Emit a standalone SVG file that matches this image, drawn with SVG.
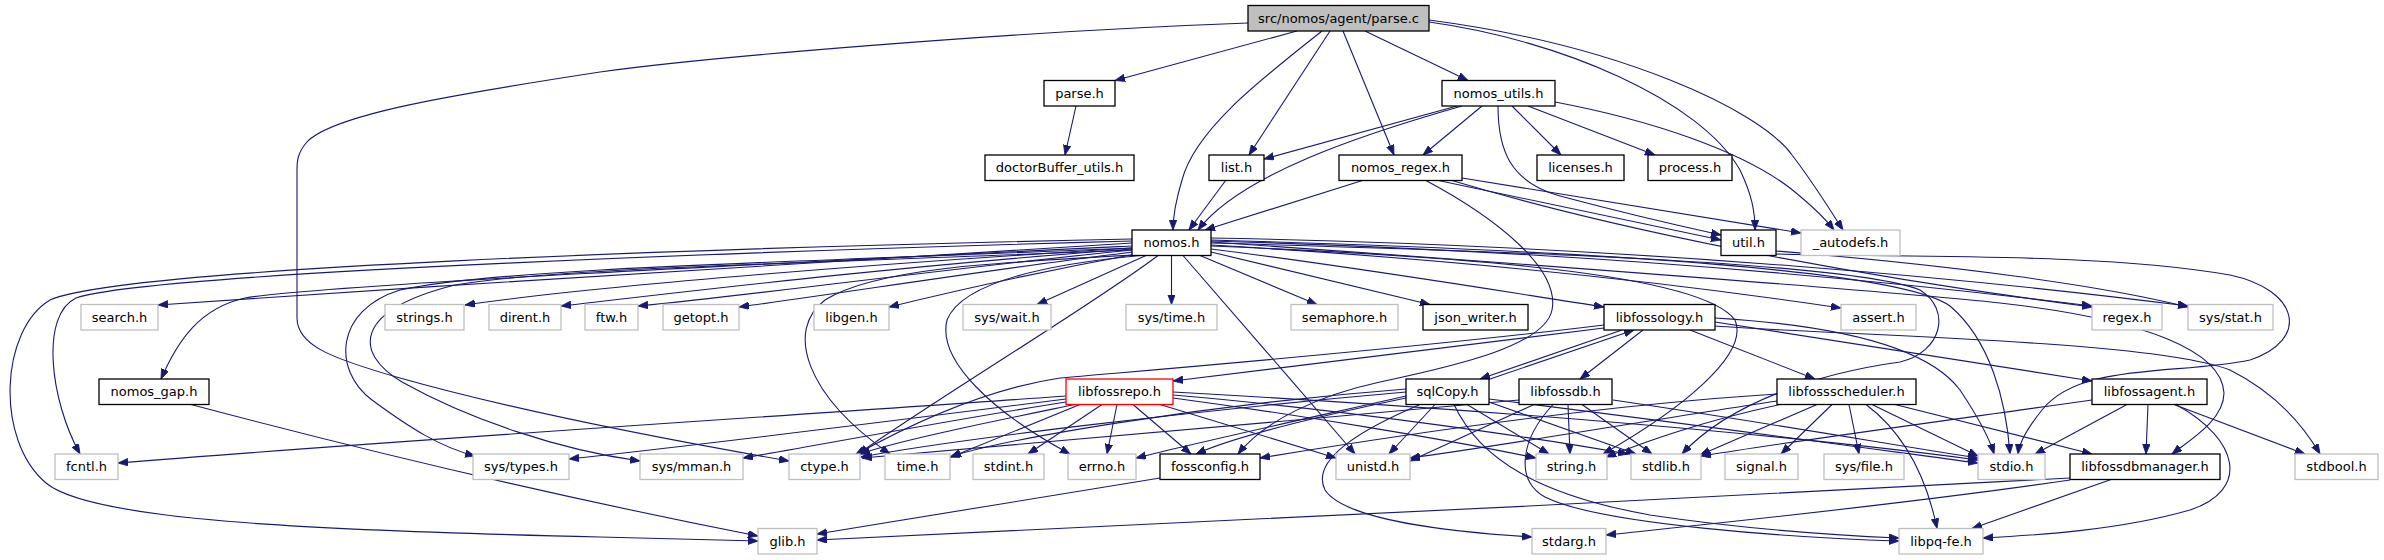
<svg xmlns="http://www.w3.org/2000/svg" width="2384" height="560" viewBox="0 0 2384 560">
<style>
.n rect{fill:#fff;stroke:#000;stroke-width:1.3}
.x rect{fill:#fff;stroke:#bfbfbf;stroke-width:1.3}
.r rect{fill:#fff;stroke:#ff0000;stroke-width:1.3}
.root rect{fill:#bfbfbf;stroke:#000;stroke-width:1.3}
text{font-family:"DejaVu Sans","Liberation Sans",sans-serif;font-size:13px;text-anchor:middle;fill:#000}
#edges path{fill:none;stroke:#191970;stroke-width:1.1;marker-end:url(#a)}
</style>
<defs>
<marker id="a" markerUnits="userSpaceOnUse" markerWidth="11" markerHeight="8" refX="10" refY="3.75" orient="auto">
<path d="M0,0 L10,3.75 L0,7.5 z" fill="#191970" stroke="#191970" stroke-width="0.8"/>
</marker>
</defs>
<rect x="0" y="0" width="2384" height="560" fill="#fff"/>
<g id="edges">
<path d="M1297,31 L1115,80.5"/>
<path d="M1076,106 L1065,155"/>
<path d="M1248,23 C1000,32 700,58 600,72 C450,95 330,115 306,143 C298,153 297,160 297,170 L297,318 C297,345 330,358 400,378 C520,412 680,442 789,461"/>
<path d="M1322,31 C1260,80 1195,130 1182,180 C1176,200 1173,215 1173,230"/>
<path d="M1330,31 L1249,155"/>
<path d="M1343,31 L1394,155"/>
<path d="M1365,31 L1468,80.5"/>
<path d="M1429,22 C1560,40 1700,100 1740,170 C1752,195 1755,212 1755,230"/>
<path d="M1429,20 C1620,45 1760,110 1792,155 C1815,185 1830,210 1843,230"/>
<path d="M1457,106 L1264,159"/>
<path d="M1462,106 C1360,135 1240,175 1198,230"/>
<path d="M1482,106 L1423,155"/>
<path d="M1512,106 L1561,155"/>
<path d="M1528,106 L1655,155"/>
<path d="M1498,106 C1498,150 1510,182 1560,196 C1620,212 1680,226 1721,235"/>
<path d="M1555,102 C1650,120 1740,150 1790,188 C1810,204 1824,217 1834,230"/>
<path d="M1226,180 L1189,230"/>
<path d="M1364,180 L1205,230"/>
<path d="M1436,180 L1721,240"/>
<path d="M1462,178 L1801,233"/>
<path d="M1452,180.5 C1650,240 1900,282 2092,307"/>
<path d="M1425,180 C1500,220 1560,270 1552,310 C1545,345 1460,365 1380,382 C1320,395 1265,420 1238,454"/>
<path d="M1132,243 C900,255 500,282 158,305"/>
<path d="M1132,241 C800,250 150,272 76,298 C40,315 50,400 80,454"/>
<path d="M1132,239 C700,248 120,268 50,300 C0,330 -5,440 46,483 C90,520 300,530 600,537 C680,539 720,540 758,541"/>
<path d="M1132,246 C800,262 320,285 245,298 C200,308 178,340 161,379"/>
<path d="M1132,248 C900,262 600,285 465,305"/>
<path d="M1132,249 C900,266 700,290 561,306"/>
<path d="M1132,250 C950,268 780,292 638,306"/>
<path d="M1133,252 C1000,268 850,292 739,307"/>
<path d="M1136,254 C1050,270 950,292 889,307"/>
<path d="M1146,255.5 L1037,304.5"/>
<path d="M1171.5,255.5 L1171.5,304.5"/>
<path d="M1200,255.5 L1317,304.5"/>
<path d="M1211,252 L1430,304.5"/>
<path d="M1211,249 C1350,266 1500,291 1604,307"/>
<path d="M1211,245 C1500,262 1700,287 1841,308"/>
<path d="M1211,241 C1600,252 1900,282 2092,306"/>
<path d="M1211,238 C1650,246 2000,282 2188,306"/>
<path d="M1132,248 C800,262 500,268 400,290 C335,310 332,370 372,400 C410,428 440,447 475,456"/>
<path d="M1132,250 C800,264 550,268 455,285 C355,310 352,352 402,382 C470,420 560,450 640,461"/>
<path d="M1135,255 C1000,262 875,268 825,300 C785,330 805,395 890,454"/>
<path d="M1140,255.5 C1050,264 962,282 947,320 C937,360 992,412 1070,454"/>
<path d="M1158,255.5 C1100,300 950,390 858,454"/>
<path d="M1183,255.5 C1230,310 1300,390 1355,454"/>
<path d="M1211,246 C1450,256 1700,272 1735,320 C1750,355 1680,410 1603,454"/>
<path d="M1211,243 C1500,251 1850,262 1920,290 C1952,310 1942,352 1900,362 C1820,373 1730,402 1682,454"/>
<path d="M1211,240 C1600,251 1900,270 1950,306 C1990,340 2006,400 2010,454"/>
<path d="M1211,242 C1500,262 1900,292 2000,303 C2150,320 2222,352 2224,393 C2224,420 2190,440 2172,454"/>
<path d="M191,404.5 C400,460 600,505 758,536"/>
<path d="M1776,251 C1950,265 2100,285 2188,307"/>
<path d="M1776,254 C1900,258 2100,252 2230,275 C2300,290 2310,340 2250,360 C2180,375 2080,362 2042,410 C2026,430 2019,445 2018,454"/>
<path d="M1604,328 L1173,381"/>
<path d="M1604,325 C1400,350 1150,370 1060,378 C980,390 900,430 855,455"/>
<path d="M1622,330 L1480,379"/>
<path d="M1490,379 L1634,330"/>
<path d="M1643,330 L1580,379"/>
<path d="M1690,330 L1815,379"/>
<path d="M1715,322 L2092,381"/>
<path d="M1715,326 C1850,336 2150,340 2230,370 C2270,390 2300,420 2320,454"/>
<path d="M1715,318 C1850,326 1930,350 1960,390 C1980,420 1990,440 1994,454"/>
<path d="M1066,396 C800,415 400,440 118,463"/>
<path d="M1066,399 C900,420 700,445 569,459"/>
<path d="M1066,402 C950,420 820,445 743,458"/>
<path d="M1075,404.5 C1000,420 900,440 860,454"/>
<path d="M1080,404.5 L951,457"/>
<path d="M1102,404.5 L1028,454"/>
<path d="M1117,404.5 L1107,454"/>
<path d="M1133,404.5 L1191,454"/>
<path d="M1160,404.5 L1336,458"/>
<path d="M1173,398 C1300,415 1450,440 1536,458"/>
<path d="M1173,395 C1350,410 1550,440 1628,454"/>
<path d="M1173,392 C1500,410 1800,436 1978,460"/>
<path d="M1435,404.5 L1389,454"/>
<path d="M1467,404.5 L1549,454"/>
<path d="M1489,402 L1636,454"/>
<path d="M1406,392 C1200,410 950,440 861,457"/>
<path d="M1406,396 C1300,420 1200,442 1136,458"/>
<path d="M1406,389 C1200,405 1000,440 950,457"/>
<path d="M1420,404.5 C1360,430 1310,460 1325,490 C1345,520 1450,532 1532,537"/>
<path d="M1454,404.5 C1480,460 1540,495 1650,515 C1750,530 1830,535 1899,538"/>
<path d="M1489,399 C1700,425 1880,450 1978,463"/>
<path d="M1406,398 C1320,416 1235,436 1196,454"/>
<path d="M1534,404.5 L1410,461"/>
<path d="M1568,404.5 L1570,454"/>
<path d="M1582,404.5 L1652,454"/>
<path d="M1553,404.5 C1520,440 1515,480 1545,497 C1600,525 1800,538 1899,541"/>
<path d="M1613,400 C1750,420 1900,446 1978,458"/>
<path d="M1519,400 C1300,420 1000,446 862,458"/>
<path d="M1777,401 C1650,420 1500,446 1410,458"/>
<path d="M1780,404.5 C1700,422 1650,440 1606,457"/>
<path d="M1817,404.5 L1700,455"/>
<path d="M1832,404.5 L1781,454"/>
<path d="M1849,404.5 L1859,454"/>
<path d="M1872,404.5 L1978,456"/>
<path d="M1895,404.5 L2092,454"/>
<path d="M1866,404.5 C1900,430 1925,470 1937,528.5"/>
<path d="M1777,394 C1600,405 1400,435 1260,458"/>
<path d="M2127,404.5 L2035,454"/>
<path d="M2148,404.5 L2146,454"/>
<path d="M2174,404.5 L2305,454"/>
<path d="M2176,404.5 C2240,440 2250,490 2190,510 C2120,530 2040,535 1983,538"/>
<path d="M2092,400 C1950,420 1800,440 1701,456"/>
<path d="M2111,479.5 L1972,528.5"/>
<path d="M2070,478 C1700,500 1100,525 817,540"/>
<path d="M2070,480 C1900,505 1700,525 1606,535"/>
<path d="M1160,478 L817,534"/>
</g>
<g id="n_parse_c" class="root"><rect x="1248" y="5.5" width="181" height="25.5"/><text x="1338.5" y="22.5">src/nomos/agent/parse.c</text></g>
<g id="n_parse_h" class="n"><rect x="1044" y="80.5" width="71" height="25.5"/><text x="1079.5" y="97.5">parse.h</text></g>
<g id="n_nomos_utils_h" class="n"><rect x="1442" y="80.5" width="113" height="25.5"/><text x="1498.5" y="97.5">nomos_utils.h</text></g>
<g id="n_doctorBuffer_utils_h" class="n"><rect x="985" y="155" width="149" height="25.5"/><text x="1059.5" y="172">doctorBuffer_utils.h</text></g>
<g id="n_list_h" class="n"><rect x="1209" y="155" width="55" height="25.5"/><text x="1236.5" y="172">list.h</text></g>
<g id="n_nomos_regex_h" class="n"><rect x="1339" y="155" width="123" height="25.5"/><text x="1400.5" y="172">nomos_regex.h</text></g>
<g id="n_licenses_h" class="n"><rect x="1537" y="155" width="87" height="25.5"/><text x="1580.5" y="172">licenses.h</text></g>
<g id="n_process_h" class="n"><rect x="1648" y="155" width="84" height="25.5"/><text x="1690" y="172">process.h</text></g>
<g id="n_nomos_h" class="n"><rect x="1132" y="230" width="79" height="25.5"/><text x="1171.5" y="247">nomos.h</text></g>
<g id="n_util_h" class="n"><rect x="1721" y="230" width="55" height="25.5"/><text x="1748.5" y="247">util.h</text></g>
<g id="n_autodefs_h" class="x"><rect x="1801" y="230" width="99" height="25.5"/><text x="1850.5" y="247">_autodefs.h</text></g>
<g id="n_search_h" class="x"><rect x="81" y="304.5" width="77" height="25.5"/><text x="119.5" y="321.5">search.h</text></g>
<g id="n_strings_h" class="x"><rect x="385" y="304.5" width="79" height="25.5"/><text x="424.5" y="321.5">strings.h</text></g>
<g id="n_dirent_h" class="x"><rect x="489" y="304.5" width="72" height="25.5"/><text x="525" y="321.5">dirent.h</text></g>
<g id="n_ftw_h" class="x"><rect x="585" y="304.5" width="53" height="25.5"/><text x="611.5" y="321.5">ftw.h</text></g>
<g id="n_getopt_h" class="x"><rect x="663" y="304.5" width="76" height="25.5"/><text x="701" y="321.5">getopt.h</text></g>
<g id="n_libgen_h" class="x"><rect x="814" y="304.5" width="75" height="25.5"/><text x="851.5" y="321.5">libgen.h</text></g>
<g id="n_sys_wait_h" class="x"><rect x="963" y="304.5" width="88" height="25.5"/><text x="1007" y="321.5">sys/wait.h</text></g>
<g id="n_sys_time_h" class="x"><rect x="1126" y="304.5" width="91" height="25.5"/><text x="1171.5" y="321.5">sys/time.h</text></g>
<g id="n_semaphore_h" class="x"><rect x="1291" y="304.5" width="107" height="25.5"/><text x="1344.5" y="321.5">semaphore.h</text></g>
<g id="n_json_writer_h" class="n"><rect x="1423" y="304.5" width="105" height="25.5"/><text x="1475.5" y="321.5">json_writer.h</text></g>
<g id="n_libfossology_h" class="n"><rect x="1604" y="304.5" width="111" height="25.5"/><text x="1659.5" y="321.5">libfossology.h</text></g>
<g id="n_assert_h" class="x"><rect x="1841" y="304.5" width="75" height="25.5"/><text x="1878.5" y="321.5">assert.h</text></g>
<g id="n_regex_h" class="x"><rect x="2092" y="304.5" width="70" height="25.5"/><text x="2127" y="321.5">regex.h</text></g>
<g id="n_sys_stat_h" class="x"><rect x="2188" y="304.5" width="85" height="25.5"/><text x="2230.5" y="321.5">sys/stat.h</text></g>
<g id="n_nomos_gap_h" class="n"><rect x="99" y="379" width="110" height="25.5"/><text x="154" y="396">nomos_gap.h</text></g>
<g id="n_libfossrepo_h" class="r"><rect x="1066" y="379" width="107" height="25.5"/><text x="1119.5" y="396">libfossrepo.h</text></g>
<g id="n_sqlCopy_h" class="n"><rect x="1406" y="379" width="83" height="25.5"/><text x="1447.5" y="396">sqlCopy.h</text></g>
<g id="n_libfossdb_h" class="n"><rect x="1519" y="379" width="93" height="25.5"/><text x="1565.5" y="396">libfossdb.h</text></g>
<g id="n_libfossscheduler_h" class="n"><rect x="1777" y="379" width="139" height="25.5"/><text x="1846.5" y="396">libfossscheduler.h</text></g>
<g id="n_libfossagent_h" class="n"><rect x="2092" y="379" width="115" height="25.5"/><text x="2149.5" y="396">libfossagent.h</text></g>
<g id="n_fcntl_h" class="x"><rect x="55" y="454" width="63" height="25.5"/><text x="86.5" y="471">fcntl.h</text></g>
<g id="n_sys_types_h" class="x"><rect x="473" y="454" width="96" height="25.5"/><text x="521" y="471">sys/types.h</text></g>
<g id="n_sys_mman_h" class="x"><rect x="640" y="454" width="103" height="25.5"/><text x="691.5" y="471">sys/mman.h</text></g>
<g id="n_ctype_h" class="x"><rect x="789" y="454" width="71" height="25.5"/><text x="824.5" y="471">ctype.h</text></g>
<g id="n_time_h" class="x"><rect x="885" y="454" width="65" height="25.5"/><text x="917.5" y="471">time.h</text></g>
<g id="n_stdint_h" class="x"><rect x="973" y="454" width="71" height="25.5"/><text x="1008.5" y="471">stdint.h</text></g>
<g id="n_errno_h" class="x"><rect x="1068" y="454" width="68" height="25.5"/><text x="1102" y="471">errno.h</text></g>
<g id="n_fossconfig_h" class="n"><rect x="1160" y="454" width="100" height="25.5"/><text x="1210" y="471">fossconfig.h</text></g>
<g id="n_unistd_h" class="x"><rect x="1336" y="454" width="74" height="25.5"/><text x="1373" y="471">unistd.h</text></g>
<g id="n_string_h" class="x"><rect x="1536" y="454" width="71" height="25.5"/><text x="1571.5" y="471">string.h</text></g>
<g id="n_stdlib_h" class="x"><rect x="1631" y="454" width="70" height="25.5"/><text x="1666" y="471">stdlib.h</text></g>
<g id="n_signal_h" class="x"><rect x="1725" y="454" width="73" height="25.5"/><text x="1761.5" y="471">signal.h</text></g>
<g id="n_sys_file_h" class="x"><rect x="1824" y="454" width="80" height="25.5"/><text x="1864" y="471">sys/file.h</text></g>
<g id="n_stdio_h" class="x"><rect x="1978" y="454" width="67" height="25.5"/><text x="2011.5" y="471">stdio.h</text></g>
<g id="n_libfossdbmanager_h" class="n"><rect x="2070" y="454" width="150" height="25.5"/><text x="2145" y="471">libfossdbmanager.h</text></g>
<g id="n_stdbool_h" class="x"><rect x="2295" y="454" width="83" height="25.5"/><text x="2336.5" y="471">stdbool.h</text></g>
<g id="n_glib_h" class="x"><rect x="758" y="528.5" width="59" height="25.5"/><text x="787.5" y="545.5">glib.h</text></g>
<g id="n_stdarg_h" class="x"><rect x="1532" y="528.5" width="74" height="25.5"/><text x="1569" y="545.5">stdarg.h</text></g>
<g id="n_libpq_fe_h" class="x"><rect x="1899" y="528.5" width="84" height="25.5"/><text x="1941" y="545.5">libpq-fe.h</text></g>
</svg>
